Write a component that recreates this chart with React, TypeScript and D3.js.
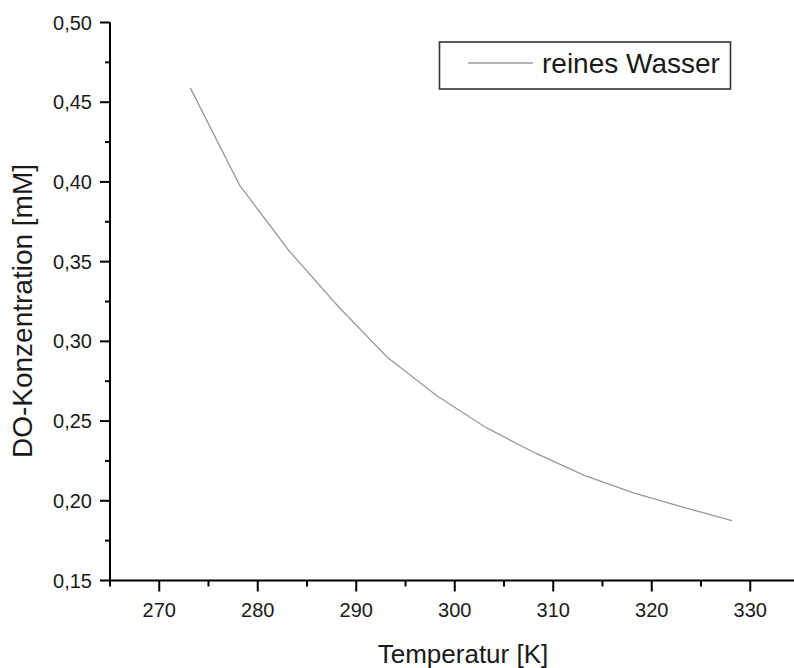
import React from "react";
import * as d3 from "d3";

const temperatures = [273.15, 278.15, 283.15, 288.15, 293.15, 298.15, 303.15, 308.15, 313.15, 318.15, 323.15, 328.15];
const concentrations = [0.459, 0.398, 0.357, 0.322, 0.290, 0.266, 0.246, 0.230, 0.216, 0.205, 0.196, 0.1875];
const xMajorTicks = [270, 280, 290, 300, 310, 320, 330];
const xMinorTicks = [265, 275, 285, 295, 305, 315, 325, 335];
const yMajorTicks = [0.15, 0.2, 0.25, 0.3, 0.35, 0.4, 0.45, 0.5];
const yMinorTicks = [0.175, 0.225, 0.275, 0.325, 0.375, 0.425, 0.475];
const seriesName = "reines Wasser";
const xTitle = "Temperatur [K]";
const yTitle = "DO-Konzentration [mM]";

const W = 794;
const H = 668;
const FONT = "'Liberation Sans', Arial, Helvetica, sans-serif";

export default function App() {
  const x = d3.scaleLinear().domain([265, 335]).range([110, 799.5]);
  const y = d3.scaleLinear().domain([0.15, 0.5]).range([580.5, 22.5]);
  const pts = temperatures.map((t, i) => [t, concentrations[i]] as [number, number]);
  const line = d3
    .line<[number, number]>()
    .x((d) => x(d[0]))
    .y((d) => y(d[1]));
  const fmt = (v: number) => v.toFixed(2).replace(".", ",");
  const x0 = x(265);
  const y0 = y(0.15);

  return (
    <svg
      width={W}
      height={H}
      style={{ position: "absolute", left: 0, top: 0, background: "#fff" }}
      fontFamily={FONT}
    >
      <rect x={0} y={0} width={W} height={H} fill="#fff" />
      {/* data line */}
      <path d={line(pts) || ""} fill="none" stroke="#9a9a9a" strokeWidth={1.3} />

      {/* y axis */}
      <line x1={x0} x2={x0} y1={y(0.5)} y2={y0 + 1} stroke="#000" strokeWidth={2} />
      {yMajorTicks.map((v) => (
        <g key={"ym" + v}>
          <line x1={x0 - 10} x2={x0} y1={y(v)} y2={y(v)} stroke="#000" strokeWidth={2} />
          <text x={92} y={y(v)} dy="0.35em" textAnchor="end" fontSize={20} fill="#1a1a1a">
            {fmt(v)}
          </text>
        </g>
      ))}
      {yMinorTicks.map((v) => (
        <line key={"yn" + v} x1={x0 - 5} x2={x0} y1={y(v)} y2={y(v)} stroke="#000" strokeWidth={2} />
      ))}

      {/* x axis */}
      <line x1={x0 - 1} x2={W} y1={y0} y2={y0} stroke="#000" strokeWidth={2} />
      {xMajorTicks.map((v) => (
        <g key={"xm" + v}>
          <line x1={x(v)} x2={x(v)} y1={y0} y2={y0 + 11} stroke="#000" strokeWidth={2} />
          <text x={x(v)} y={617} textAnchor="middle" fontSize={20} fill="#1a1a1a">
            {v}
          </text>
        </g>
      ))}
      {xMinorTicks.map((v) => (
        <line key={"xn" + v} x1={x(v)} x2={x(v)} y1={y0} y2={y0 + 6} stroke="#000" strokeWidth={2} />
      ))}

      {/* axis titles */}
      <text x={463} y={663} textAnchor="middle" fontSize={26} fill="#1a1a1a">
        {xTitle}
      </text>
      <text
        transform={`translate(32, 311) rotate(-90)`}
        textAnchor="middle"
        fontSize={28}
        fill="#1a1a1a"
      >
        {yTitle}
      </text>

      {/* legend */}
      <rect x={439.5} y={42} width={291} height={47} fill="#fff" stroke="#333" strokeWidth={1.6} />
      <line x1={468} x2={533} y1={63} y2={63} stroke="#9a9a9a" strokeWidth={1.3} />
      <text x={542} y={73} fontSize={28} fill="#1a1a1a">
        {seriesName}
      </text>
    </svg>
  );
}
